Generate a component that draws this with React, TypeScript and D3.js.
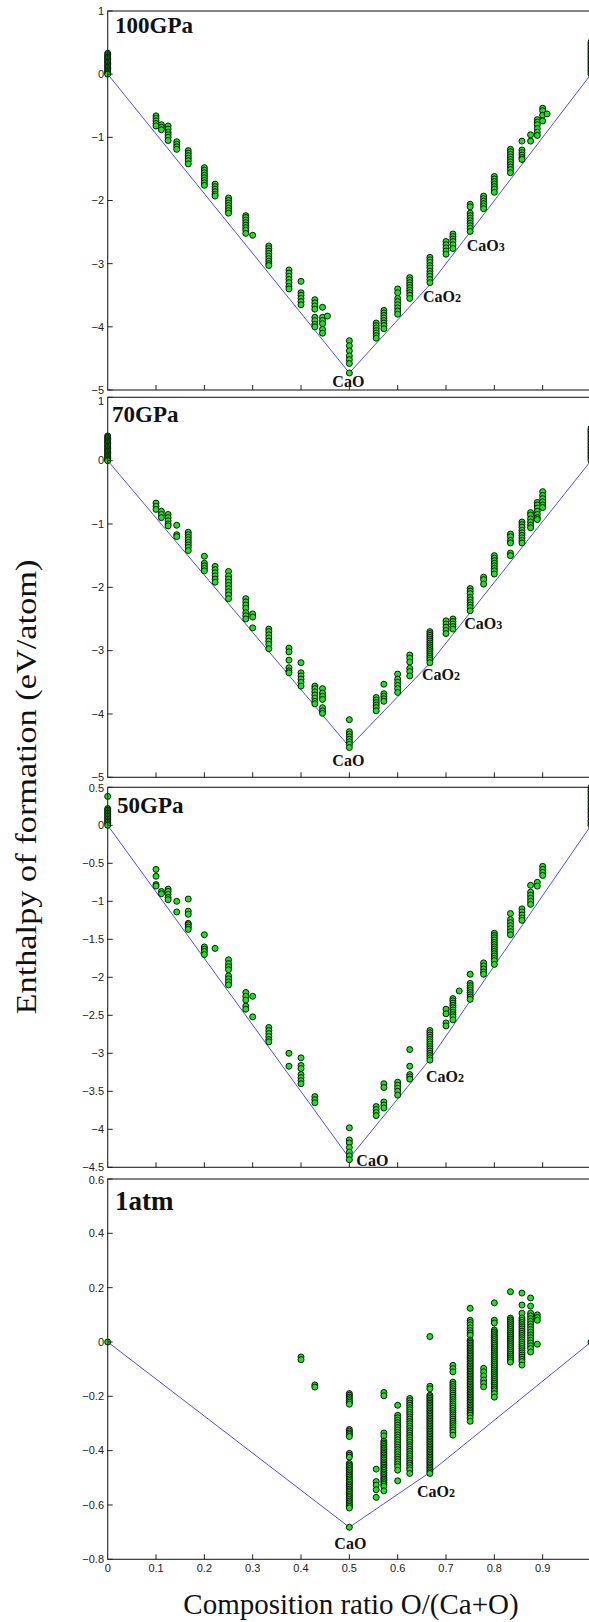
import React from 'react';
import * as d3 from 'd3';

// ---------------- data ----------------
const panelNames = ['100GPa', '70GPa', '50GPa', '1atm'];
const xTicks = [0, 0.1, 0.2, 0.3, 0.4, 0.5, 0.6, 0.7, 0.8, 0.9];
const yTicks100 = [-5, -4, -3, -2, -1, 0, 1];
const yTicks70 = [-5, -4, -3, -2, -1, 0, 1];
const yTicks50 = [-4.5, -4, -3.5, -3, -2.5, -2, -1.5, -1, -0.5, 0, 0.5];
const yTicks1atm = [-0.8, -0.6, -0.4, -0.2, 0, 0.2, 0.4, 0.6];
const yDomain100 = [-5, 1];
const yDomain70 = [-5, 1];
const yDomain50 = [-4.5, 0.5];
const yDomain1atm = [-0.8, 0.6];

// 100 GPa
const comp100 = [0, 0.1, 1 / 9, 1 / 8, 1 / 7, 1 / 6, 0.2, 2 / 9, 0.25, 2 / 7, 0.3, 1 / 3, 3 / 8, 0.4, 3 / 7, 4 / 9, 5 / 11, 0.5, 5 / 9, 4 / 7, 0.6, 5 / 8, 2 / 3, 0.7, 5 / 7, 0.75, 7 / 9, 0.8, 5 / 6, 6 / 7, 7 / 8, 8 / 9, 0.9, 10 / 11, 1];
const enth100 = [
  [0.33, 0.31, 0.29, 0.27, 0.25, 0.23, 0.21, 0.19, 0.17, 0.15, 0.13, 0.11, 0.09, 0.07, 0.05, 0.03, 0.01, 0],
  [-0.66, -0.7, -0.74, -0.78, -0.82],
  [-0.8, -0.84, -0.88],
  [-0.82, -0.87, -0.92, -0.96, -1.0, -1.05],
  [-1.07, -1.11, -1.15, -1.19],
  [-1.21, -1.25, -1.29, -1.33, -1.37, -1.42],
  [-1.48, -1.52, -1.56, -1.6, -1.64, -1.68, -1.72, -1.76],
  [-1.74, -1.78, -1.82, -1.86, -1.9, -1.93],
  [-1.96, -2.0, -2.04, -2.08, -2.12, -2.16, -2.2],
  [-2.24, -2.27, -2.31, -2.35, -2.39, -2.43, -2.47, -2.52],
  [-2.55],
  [-2.72, -2.76, -2.8, -2.84, -2.88, -2.92, -2.96, -3.0, -3.03],
  [-3.1, -3.15, -3.2, -3.25, -3.3, -3.36, -3.4],
  [-3.28, -3.46, -3.5, -3.55, -3.6, -3.65],
  [-3.57, -3.62, -3.67, -3.72, -3.85, -3.9, -3.96, -4.0],
  [-3.69, -3.85, -3.9, -3.95, -4.04, -4.1],
  [-3.83],
  [-4.22, -4.3, -4.38, -4.46, -4.52, -4.58, -4.73],
  [-3.94, -3.98, -4.02, -4.06, -4.1, -4.14, -4.18],
  [-3.74, -3.78, -3.82, -3.86, -3.9, -3.94, -3.98, -4.03],
  [-3.4, -3.46, -3.55, -3.6, -3.65, -3.7, -3.75, -3.8],
  [-3.22, -3.26, -3.3, -3.34, -3.38, -3.42, -3.46, -3.5, -3.55],
  [-2.9, -2.94, -2.98, -3.03, -3.07, -3.12, -3.16, -3.2, -3.25, -3.3],
  [-2.65, -2.7, -2.75, -2.8, -2.85],
  [-2.53, -2.57, -2.61, -2.65, -2.7, -2.76],
  [-2.06, -2.1, -2.2, -2.24, -2.28, -2.32, -2.36, -2.4, -2.44, -2.49],
  [-1.93, -1.97, -2.01, -2.05, -2.09, -2.13],
  [-1.62, -1.66, -1.7, -1.74, -1.78, -1.82, -1.87],
  [-1.19, -1.23, -1.27, -1.31, -1.35, -1.39, -1.43, -1.47, -1.51, -1.56],
  [-1.06, -1.2, -1.24, -1.28, -1.32, -1.35],
  [-0.96, -1.06],
  [-0.72, -0.76, -0.8, -0.86, -0.92, -0.97],
  [-0.54, -0.58, -0.65, -0.74],
  [-0.63],
  [0.51, 0.48, 0.46, 0.43, 0.41, 0.38, 0.36, 0.33, 0.31, 0.28, 0.26, 0.23, 0.21, 0.18, 0.16, 0.13, 0.11, 0.08, 0.06, 0.03, 0],
];
const hullComp100 = [0, 0.5, 2 / 3, 0.75, 1];
const hullEnth100 = [0, -4.73, -3.33, -2.5, 0];
const phases100 = ['CaO', 'CaO2', 'CaO3'];
const phaseComp100 = [0.5, 2 / 3, 0.75];

// 70 GPa
const comp70 = [0, 0.1, 1 / 9, 1 / 8, 1 / 7, 1 / 6, 0.2, 2 / 9, 0.25, 2 / 7, 0.3, 1 / 3, 3 / 8, 0.4, 3 / 7, 4 / 9, 0.5, 5 / 9, 4 / 7, 0.6, 5 / 8, 2 / 3, 0.7, 5 / 7, 0.75, 7 / 9, 0.8, 5 / 6, 6 / 7, 7 / 8, 8 / 9, 0.9, 1];
const enth70 = [
  [0.39, 0.37, 0.35, 0.33, 0.31, 0.29, 0.27, 0.25, 0.23, 0.21, 0.19, 0.17, 0.15, 0.13, 0.11, 0.09, 0.07, 0.05, 0.03, 0.01, 0],
  [-0.67, -0.72, -0.77],
  [-0.8, -0.85, -0.9],
  [-0.85, -0.9, -0.95, -1.0, -1.03],
  [-1.02, -1.17, -1.2],
  [-1.13, -1.17, -1.21, -1.25, -1.29, -1.33, -1.37, -1.42],
  [-1.51, -1.62, -1.66, -1.7, -1.74],
  [-1.67, -1.72, -1.77, -1.82, -1.87, -1.92],
  [-1.75, -1.82, -1.87, -1.92, -1.97, -2.02, -2.07, -2.12, -2.18],
  [-2.18, -2.23, -2.28, -2.33, -2.4, -2.45, -2.5],
  [-2.42, -2.47, -2.64],
  [-2.66, -2.7, -2.75, -2.8, -2.85, -2.9, -2.97],
  [-2.96, -3.02, -3.15, -3.27, -3.32, -3.35],
  [-3.19, -3.35, -3.4, -3.45, -3.5, -3.56],
  [-3.56, -3.6, -3.65, -3.7, -3.75, -3.8, -3.84],
  [-3.6, -3.67, -3.72, -3.77, -3.9, -3.95, -3.99],
  [-4.09, -4.28, -4.32, -4.36, -4.4, -4.44, -4.48, -4.53],
  [-3.74, -3.78, -3.82, -3.86, -3.9, -3.95],
  [-3.53, -3.68, -3.72, -3.76, -3.8],
  [-3.37, -3.45, -3.5, -3.55, -3.6, -3.66],
  [-3.07, -3.12, -3.18, -3.28, -3.33, -3.4],
  [-2.7, -2.73, -2.76, -2.79, -2.82, -2.85, -2.88, -2.91, -2.94, -2.97, -3.0, -3.03, -3.06, -3.09, -3.12, -3.15, -3.19],
  [-2.53, -2.58, -2.63, -2.68, -2.73],
  [-2.5, -2.54, -2.58, -2.62, -2.66],
  [-2.02, -2.06, -2.1, -2.16, -2.2, -2.24, -2.28, -2.32, -2.37],
  [-1.84, -1.88, -1.95],
  [-1.5, -1.54, -1.58, -1.62, -1.66, -1.7, -1.74, -1.79],
  [-1.16, -1.2, -1.26, -1.3, -1.46, -1.5],
  [-0.97, -1.01, -1.05, -1.1, -1.14, -1.18, -1.22, -1.26, -1.3],
  [-0.82, -0.86, -0.92, -0.97, -1.02, -1.06],
  [-0.66, -0.7, -0.75, -0.8, -0.85, -0.9, -0.93],
  [-0.49, -0.55, -0.6, -0.65, -0.7, -0.74],
  [0.51, 0.48, 0.46, 0.43, 0.41, 0.38, 0.36, 0.33, 0.31, 0.28, 0.26, 0.23, 0.21, 0.18, 0.16, 0.13, 0.11, 0.08, 0.06, 0.03, 0],
];
const hullComp70 = [0, 0.5, 2 / 3, 0.75, 1];
const hullEnth70 = [0, -4.52, -3.2, -2.4, 0];
const phases70 = ['CaO', 'CaO2', 'CaO3'];
const phaseComp70 = [0.5, 2 / 3, 0.75];

// 50 GPa
const comp50 = [0, 0.1, 1 / 9, 1 / 8, 1 / 7, 1 / 6, 0.2, 2 / 9, 0.25, 2 / 7, 0.3, 1 / 3, 3 / 8, 0.4, 3 / 7, 0.5, 5 / 9, 4 / 7, 0.6, 5 / 8, 2 / 3, 0.7, 5 / 7, 8 / 11, 0.75, 7 / 9, 0.8, 5 / 6, 6 / 7, 7 / 8, 8 / 9, 0.9, 1];
const enth50 = [
  [0.38, 0.22, 0.2, 0.18, 0.16, 0.14, 0.12, 0.1, 0.08, 0.06, 0.04, 0.02, 0],
  [-0.58, -0.67, -0.78, -0.8],
  [-0.87, -0.9],
  [-0.84, -0.87, -0.91, -0.95, -0.98],
  [-1.0, -1.14],
  [-0.97, -1.13, -1.17, -1.29, -1.31, -1.34, -1.37],
  [-1.44, -1.6, -1.63, -1.66, -1.7],
  [-1.62],
  [-1.77, -1.82, -1.86, -1.9, -1.98, -2.02, -2.06, -2.1],
  [-2.2, -2.25, -2.3, -2.38, -2.42],
  [-2.25, -2.52],
  [-2.66, -2.7, -2.74, -2.78, -2.82, -2.85],
  [-3.0, -3.17],
  [-3.06, -3.16, -3.2, -3.28, -3.32, -3.36, -3.4],
  [-3.57, -3.61, -3.65],
  [-3.98, -4.14, -4.18, -4.24, -4.3, -4.35, -4.4],
  [-3.7, -3.74, -3.78, -3.82],
  [-3.4, -3.45, -3.64, -3.68, -3.72],
  [-3.38, -3.42, -3.46, -3.5, -3.55],
  [-2.95, -3.17, -3.28, -3.31, -3.34],
  [-2.7, -2.73, -2.76, -2.79, -2.82, -2.85, -2.88, -2.91, -2.94, -2.97, -3.0, -3.03, -3.06, -3.09],
  [-2.42, -2.48, -2.6, -2.64],
  [-2.28, -2.31, -2.34, -2.37, -2.4, -2.43, -2.46, -2.49, -2.52, -2.56],
  [-2.18],
  [-1.96, -2.08, -2.11, -2.14, -2.17, -2.2, -2.23, -2.26, -2.29],
  [-1.81, -1.85, -1.89, -1.93, -1.96],
  [-1.42, -1.45, -1.48, -1.51, -1.54, -1.57, -1.6, -1.63, -1.66, -1.69, -1.72, -1.75, -1.78, -1.83],
  [-1.16, -1.24, -1.28, -1.32, -1.36, -1.4, -1.44],
  [-1.1, -1.14, -1.18, -1.22, -1.25],
  [-0.79, -0.88, -0.92, -0.96, -1.0, -1.04],
  [-0.75, -0.8],
  [-0.54, -0.58, -0.62, -0.66],
  [0.5, 0.47, 0.45, 0.42, 0.4, 0.37, 0.35, 0.32, 0.3, 0.27, 0.25, 0.22, 0.2, 0.17, 0.15, 0.12, 0.1, 0.07, 0.05, 0.02, 0],
];
const hullComp50 = [0, 0.5, 2 / 3, 1];
const hullEnth50 = [0, -4.38, -3.08, 0];
const phases50 = ['CaO', 'CaO2'];
const phaseComp50 = [0.5, 2 / 3];

// 1 atm
const comp1atm = [0, 0.4, 3 / 7, 0.5, 5 / 9, 4 / 7, 0.6, 5 / 8, 2 / 3, 5 / 7, 0.75, 7 / 9, 0.8, 5 / 6, 6 / 7, 7 / 8, 8 / 9, 1];
const enth1atm = [
  [0],
  [-0.055, -0.065],
  [-0.158, -0.166],
  [-0.190, -0.196, -0.203, -0.209, -0.216, -0.222, -0.229, -0.322, -0.328, -0.335, -0.341, -0.348, -0.410, -0.417, -0.424, -0.447, -0.453, -0.459, -0.466, -0.472, -0.478, -0.485, -0.491, -0.497, -0.504, -0.510, -0.516, -0.523, -0.529, -0.535, -0.542, -0.548, -0.554, -0.561, -0.567, -0.573, -0.580, -0.586, -0.592, -0.599, -0.605, -0.611, -0.682],
  [-0.468, -0.514, -0.527, -0.544, -0.572],
  [-0.186, -0.198, -0.335, -0.346, -0.365, -0.372, -0.378, -0.385, -0.391, -0.397, -0.404, -0.410, -0.416, -0.423, -0.429, -0.435, -0.442, -0.448, -0.454, -0.461, -0.467, -0.473, -0.480, -0.486, -0.492, -0.499, -0.505, -0.511, -0.518, -0.524, -0.531, -0.548],
  [-0.233, -0.270, -0.279, -0.288, -0.297, -0.306, -0.315, -0.324, -0.333, -0.342, -0.351, -0.360, -0.369, -0.378, -0.387, -0.396, -0.405, -0.414, -0.423, -0.432, -0.441, -0.450, -0.459, -0.472, -0.511],
  [-0.208, -0.216, -0.225, -0.233, -0.242, -0.250, -0.259, -0.267, -0.276, -0.284, -0.293, -0.301, -0.310, -0.318, -0.327, -0.335, -0.344, -0.352, -0.361, -0.369, -0.378, -0.386, -0.395, -0.403, -0.412, -0.420, -0.429, -0.437, -0.446, -0.454, -0.463, -0.471, -0.484],
  [0.02, -0.163, -0.172, -0.196, -0.202, -0.208, -0.214, -0.220, -0.226, -0.232, -0.238, -0.244, -0.250, -0.256, -0.262, -0.268, -0.274, -0.280, -0.286, -0.292, -0.298, -0.304, -0.310, -0.316, -0.322, -0.328, -0.334, -0.340, -0.346, -0.352, -0.358, -0.364, -0.370, -0.376, -0.382, -0.388, -0.394, -0.400, -0.406, -0.412, -0.418, -0.424, -0.430, -0.436, -0.442, -0.448, -0.454, -0.460, -0.466, -0.472, -0.478, -0.484],
  [-0.086, -0.098, -0.110, -0.148, -0.156, -0.164, -0.172, -0.180, -0.188, -0.196, -0.204, -0.212, -0.220, -0.228, -0.236, -0.244, -0.252, -0.260, -0.268, -0.276, -0.284, -0.292, -0.300, -0.308, -0.316, -0.324, -0.332, -0.343],
  [0.124, 0.080, 0.072, 0.063, 0.052, 0.042, 0.033, 0.025, 0.007, 0.001, -0.005, -0.011, -0.017, -0.023, -0.029, -0.035, -0.041, -0.047, -0.053, -0.059, -0.065, -0.071, -0.077, -0.083, -0.089, -0.095, -0.101, -0.107, -0.113, -0.119, -0.125, -0.131, -0.137, -0.143, -0.149, -0.155, -0.161, -0.167, -0.173, -0.179, -0.185, -0.191, -0.197, -0.203, -0.209, -0.215, -0.221, -0.227, -0.233, -0.239, -0.245, -0.251, -0.257, -0.263, -0.270, -0.280, -0.292],
  [-0.097, -0.110, -0.125, -0.140, -0.152, -0.165],
  [0.144, 0.080, 0.070, 0.044, 0.037, 0.030, 0.023, 0.016, 0.009, 0.002, -0.005, -0.012, -0.019, -0.026, -0.033, -0.040, -0.047, -0.054, -0.061, -0.068, -0.075, -0.082, -0.089, -0.096, -0.103, -0.110, -0.117, -0.124, -0.131, -0.138, -0.145, -0.152, -0.159, -0.166, -0.173, -0.180, -0.190, -0.203],
  [0.185, 0.088, 0.081, 0.074, 0.067, 0.060, 0.053, 0.046, 0.039, 0.032, 0.025, 0.018, 0.011, 0.004, -0.003, -0.010, -0.017, -0.024, -0.031, -0.038, -0.045, -0.052, -0.059, -0.066, -0.074],
  [0.180, 0.136, 0.106, 0.088, 0.080, 0.072, 0.064, 0.056, 0.048, 0.040, 0.032, 0.024, 0.016, 0.008, 0.000, -0.008, -0.016, -0.024, -0.032, -0.040, -0.048, -0.056, -0.064, -0.072, -0.085],
  [0.162, 0.132, 0.106, 0.096, 0.086, 0.076, 0.066, 0.056, 0.046, 0.036, 0.026, 0.016, 0.006, -0.004, -0.014, -0.024, -0.037],
  [0.100, 0.090, 0.080, -0.008],
  [0],
];
const hullComp1atm = [0, 0.5, 2 / 3, 1];
const hullEnth1atm = [0, -0.682, -0.48, 0];
const phases1atm = ['CaO', 'CaO2'];
const phaseComp1atm = [0.5, 2 / 3];

// ---------------- layout / styles ----------------
const W = 589;
const H = 1622;
const X0 = 107.7;
const X1 = 591;
const GREEN = '#19e619';
const BLUE = '#4b4bff';
const SERIF = 'Liberation Serif, Times New Roman, serif';
const SANS = 'Liberation Sans, Arial, sans-serif';

type LabelPos = { anchor: 'start' | 'middle'; dx: number; dy: number };

const panels = [
  {
    name: panelNames[0], top: 11, bottom: 390, domain: yDomain100, ticks: yTicks100, topShift: 0,
    comp: comp100, enth: enth100, hullC: hullComp100, hullE: hullEnth100,
    phases: phases100, phaseC: phaseComp100, nameSize: 23, nameX: 115, nameY: 33,
    labelPos: [
      { anchor: 'middle', dx: -1, dy: 14 },
      { anchor: 'start', dx: -7, dy: 17 },
      { anchor: 'start', dx: -3.5, dy: 18.5 },
    ] as LabelPos[],
  },
  {
    name: panelNames[1], top: 397.3, bottom: 777.3, domain: yDomain70, ticks: yTicks70, topShift: 4,
    comp: comp70, enth: enth70, hullC: hullComp70, hullE: hullEnth70,
    phases: phases70, phaseC: phaseComp70, nameSize: 23, nameX: 112, nameY: 421.5,
    labelPos: [
      { anchor: 'middle', dx: -1, dy: 19 },
      { anchor: 'start', dx: -8, dy: 17 },
      { anchor: 'start', dx: -6, dy: 16 },
    ] as LabelPos[],
  },
  {
    name: panelNames[2], top: 787.3, bottom: 1167.3, domain: yDomain50, ticks: yTicks50, topShift: 1,
    comp: comp50, enth: enth50, hullC: hullComp50, hullE: hullEnth50,
    phases: phases50, phaseC: phaseComp50, nameSize: 23, nameX: 117, nameY: 813,
    labelPos: [
      { anchor: 'start', dx: 7, dy: 7.5 },
      { anchor: 'start', dx: -4, dy: 23 },
    ] as LabelPos[],
  },
  {
    name: panelNames[3], top: 1179, bottom: 1559.3, domain: yDomain1atm, ticks: yTicks1atm, topShift: 1,
    comp: comp1atm, enth: enth1atm, hullC: hullComp1atm, hullE: hullEnth1atm,
    phases: phases1atm, phaseC: phaseComp1atm, nameSize: 27, nameX: 115, nameY: 1210,
    labelPos: [
      { anchor: 'middle', dx: 1, dy: 22 },
      { anchor: 'start', dx: -13, dy: 25 },
    ] as LabelPos[],
  },
];

const fmt = (v: number) => {
  const s = String(+Math.abs(v).toFixed(2));
  return (v < 0 ? '\u2212' : '') + s;
};

function PhaseLabel({ text, x, y, anchor }: { text: string; x: number; y: number; anchor: string }) {
  const m = text.match(/^(CaO)(\d?)$/);
  const base = m ? m[1] : text;
  const sub = m ? m[2] : '';
  return (
    <text x={x} y={y} textAnchor={anchor} fontFamily={SERIF} fontWeight="bold" fontSize={16} fill="#111">
      {base}
      {sub && <tspan fontSize={12}>{sub}</tspan>}
    </text>
  );
}

export default function App() {
  const x = d3.scaleLinear().domain([0, 1]).range([X0, X1]);
  return (
    <svg width={W} height={H} style={{ position: 'absolute', left: 0, top: 0, display: 'block', background: '#fff' }}>
      <rect x={0} y={0} width={W} height={H} fill="#fff" />
      {panels.map((p, pi) => {
        const y = d3.scaleLinear().domain(p.domain).range([p.bottom, p.top]);
        const hull = d3.line<number>().x((_, i) => x(p.hullC[i])).y((d) => y(d));
        const maxTick = d3.max(p.ticks) as number;
        return (
          <g key={pi}>
            <path d={hull(p.hullE) || ''} fill="none" stroke={BLUE} strokeWidth={1} />
            {p.comp.map((c, ci) =>
              p.enth[ci].map((e, ei) => (
                <circle key={ci + '-' + ei} cx={x(c)} cy={y(e)} r={3} fill={GREEN} stroke="#000" strokeWidth={0.9} />
              ))
            )}
            <rect x={X0} y={p.top} width={X1 - X0} height={p.bottom - p.top} fill="none" stroke="#222" strokeWidth={1.1} />
            {p.ticks.map((t) => (
              <g key={'yt' + t}>
                <line x1={X0} x2={X0 + 5} y1={y(t)} y2={y(t)} stroke="#222" strokeWidth={1} />
                <text x={104} y={y(t) + (t === maxTick ? p.topShift : 0)} dy="0.35em" textAnchor="end" fontFamily={SANS} fontSize={11} fill="#222">
                  {fmt(t)}
                </text>
              </g>
            ))}
            {xTicks.filter((t) => t > 0).map((t) => (
              <line key={'xt' + t} x1={x(t)} x2={x(t)} y1={p.bottom} y2={p.bottom - 5} stroke="#222" strokeWidth={1} />
            ))}
            {pi === panels.length - 1 &&
              xTicks.map((t) => (
                <text key={'xl' + t} x={x(t)} y={p.bottom + 13} textAnchor="middle" fontFamily={SANS} fontSize={11} fill="#222">
                  {fmt(t)}
                </text>
              ))}
            <text x={p.nameX} y={p.nameY} fontFamily={SERIF} fontWeight="bold" fontSize={p.nameSize} fill="#111">
              {p.name}
            </text>
            {p.phases.map((ph, i) => {
              const ci = p.hullC.indexOf(p.phaseC[i]);
              const lp = p.labelPos[i];
              return (
                <PhaseLabel
                  key={ph}
                  text={ph}
                  x={x(p.phaseC[i]) + lp.dx}
                  y={y(p.hullE[ci]) + lp.dy}
                  anchor={lp.anchor}
                />
              );
            })}
          </g>
        );
      })}
      <text
        transform="translate(36,787) rotate(-90)"
        textAnchor="middle"
        fontFamily={SERIF}
        fontSize={30}
        textLength={455}
        lengthAdjust="spacingAndGlyphs"
        fill="#111"
      >
        Enthalpy of formation (eV/atom)
      </text>
      <text x={351} y={1614} textAnchor="middle" fontFamily={SERIF} fontSize={29} fill="#111">
        Composition ratio O/(Ca+O)
      </text>
    </svg>
  );
}
